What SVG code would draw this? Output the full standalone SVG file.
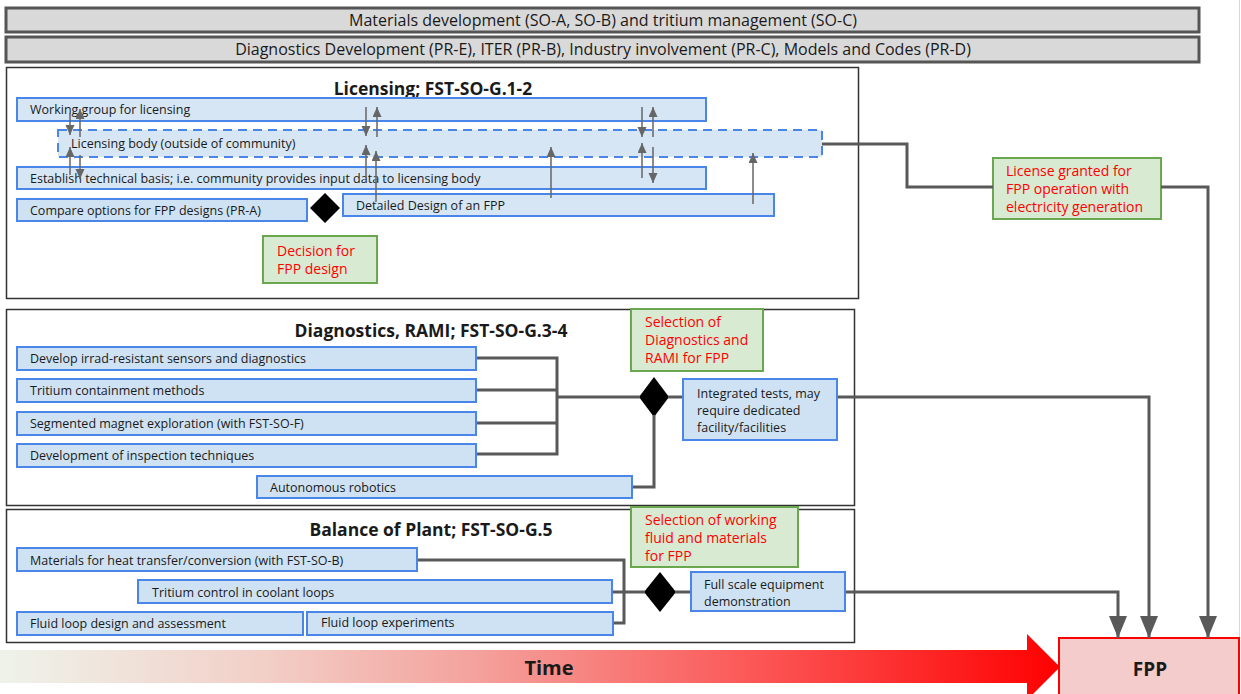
<svg xmlns="http://www.w3.org/2000/svg" width="1241" height="694" viewBox="0 0 1241 694">
<style>
text{font-family:"Open Sans","Liberation Sans",sans-serif;fill:#1a1a1a}
.hdr{fill:#d9d9d9;stroke:#555;stroke-width:3}
.hdrt{font-size:16px;text-anchor:middle}
.panel{fill:#fff;stroke:#333;stroke-width:1.5}
.ptitle{font-size:17.5px;font-weight:bold;text-anchor:middle}
.bar{fill:#cfe2f3;stroke:#4a86e8;stroke-width:2}
.dash{fill:#cfe2f3;stroke:#4a86e8;stroke-width:2;stroke-dasharray:9 6}
.bt{font-size:12.5px}
.dec{fill:#d9ead3;stroke:#6aa84f;stroke-width:2}
.rt{font-size:14px;fill:#ff0000}
.conn{fill:none;stroke:#595959;stroke-width:3}
.sa{fill:none;stroke:#666;stroke-width:1.5;marker-end:url(#sm)}
.ba{marker-end:url(#big)}
</style>
<defs>
<marker id="sm" markerUnits="userSpaceOnUse" markerWidth="10" markerHeight="12" refX="10" refY="4.5" orient="auto">
<path d="M0,0 L10,4.5 L0,9 Z" fill="#666"/>
</marker>
<marker id="big" markerUnits="userSpaceOnUse" markerWidth="24" markerHeight="20" refX="22" refY="9" orient="auto">
<path d="M0,0 L22,9 L0,18 Z" fill="#595959"/>
</marker>
<linearGradient id="tg" x1="0" y1="0" x2="1060" y2="0" gradientUnits="userSpaceOnUse">
<stop offset="0" stop-color="#eef3ea"/>
<stop offset="0.25" stop-color="#f2cfc7"/>
<stop offset="0.45" stop-color="#f4a19c"/>
<stop offset="0.75" stop-color="#fc4c4c"/>
<stop offset="1" stop-color="#ff0000"/>
</linearGradient>
</defs>
<rect width="1241" height="694" fill="#fff"/>
<line x1="1239.5" y1="0" x2="1239.5" y2="694" stroke="#d8d8d8" stroke-width="1"/>

<g id="hdr1"><rect class="hdr" x="6" y="8" width="1193" height="24"/><text class="hdrt" x="603" y="26">Materials development (SO-A, SO-B) and tritium management (SO-C)</text></g>
<g id="hdr2"><rect class="hdr" x="6" y="37" width="1193" height="25"/><text class="hdrt" x="603" y="55">Diagnostics Development (PR-E), ITER (PR-B), Industry involvement (PR-C), Models and Codes (PR-D)</text></g>

<g id="panel-licensing"><rect class="panel" x="6.5" y="67.5" width="852" height="231"/><text class="ptitle" x="433" y="95">Licensing; FST-SO-G.1-2</text></g>
<g id="panel-diag"><rect class="panel" x="6.5" y="309.5" width="848" height="196"/><text class="ptitle" x="431" y="337">Diagnostics, RAMI; FST-SO-G.3-4</text></g>
<g id="panel-bop"><rect class="panel" x="6.5" y="509.5" width="848" height="133"/><text class="ptitle" x="431" y="536">Balance of Plant; FST-SO-G.5</text></g>

<g id="time-arrow"><path d="M0,650 H1027 V634 L1060,667 L1027,700 V683 H0 Z" fill="url(#tg)"/><text x="549" y="675" style="font-size:20px;font-weight:bold;text-anchor:middle">Time</text></g>
<g id="fpp"><rect x="1059" y="638" width="180" height="60" fill="#f4cccc" stroke="#ff0000" stroke-width="2"/><text x="1150" y="676" style="font-size:19px;font-weight:bold;text-anchor:middle">FPP</text></g>

<g id="n-wg"><rect class="bar" x="17" y="98" width="689" height="23" fill-opacity="0.85"/><text class="bt" x="30" y="114">Working group for licensing</text></g>
<g id="n-lb"><rect class="dash" x="58" y="130" width="764" height="27" fill-opacity="0.85"/><text class="bt" x="71" y="148">Licensing body (outside of community)</text></g>
<g id="n-est"><rect class="bar" x="17" y="167" width="689" height="22" fill-opacity="0.85"/><text class="bt" x="30" y="183">Establish technical basis; i.e. community provides input data to licensing body</text></g>
<g id="n-cmp"><rect class="bar" x="17" y="199" width="290" height="22"/><text class="bt" x="30" y="215">Compare options for FPP designs (PR-A)</text></g>
<g id="d-lic"><path d="M325,193 L340,208 L325,223 L310,208 Z" fill="#000"/></g>
<g id="n-dd"><rect class="bar" x="343" y="194" width="431" height="22" fill-opacity="0.85"/><text class="bt" x="356" y="210">Detailed Design of an FPP</text></g>
<g id="m-dec"><rect class="dec" x="263" y="236" width="114" height="47"/><text class="rt" x="277" y="256">Decision for</text><text class="rt" x="277" y="274">FPP design</text></g>
<g id="m-lic"><rect class="dec" x="993" y="158" width="168" height="61"/><text class="rt" x="1006" y="176">License granted for</text><text class="rt" x="1006" y="194">FPP operation with</text><text class="rt" x="1006" y="212">electricity generation</text></g>

<g id="n-sens"><rect class="bar" x="17" y="347" width="459" height="23"/><text class="bt" x="30" y="363">Develop irrad-resistant sensors and diagnostics</text></g>
<g id="n-trit"><rect class="bar" x="17" y="379" width="459" height="23"/><text class="bt" x="30" y="395">Tritium containment methods</text></g>
<g id="n-seg"><rect class="bar" x="17" y="412" width="459" height="23"/><text class="bt" x="30" y="428">Segmented magnet exploration (with FST-SO-F)</text></g>
<g id="n-insp"><rect class="bar" x="17" y="444" width="459" height="23"/><text class="bt" x="30" y="460">Development of inspection techniques</text></g>
<g id="n-rob"><rect class="bar" x="257" y="476" width="375" height="22"/><text class="bt" x="270" y="492">Autonomous robotics</text></g>
<g id="d-diag"><path d="M654,377 L669,397 L654,417 L639,397 Z" fill="#000"/></g>
<g id="n-int"><rect class="bar" x="683" y="379" width="154" height="61"/><text class="bt" x="697" y="398">Integrated tests, may</text><text class="bt" x="697" y="415">require dedicated</text><text class="bt" x="697" y="432">facility/facilities</text></g>
<g id="m-diag"><rect class="dec" x="631" y="309" width="132" height="62"/><text class="rt" x="645" y="327">Selection of</text><text class="rt" x="645" y="345">Diagnostics and</text><text class="rt" x="645" y="363">RAMI for FPP</text></g>

<g id="n-mat"><rect class="bar" x="17" y="548" width="400" height="23"/><text class="bt" x="30" y="565">Materials for heat transfer/conversion (with FST-SO-B)</text></g>
<g id="n-tcl"><rect class="bar" x="138" y="580" width="474" height="23"/><text class="bt" x="152" y="597">Tritium control in coolant loops</text></g>
<g id="n-fld"><rect class="bar" x="17" y="612" width="286" height="23"/><text class="bt" x="30" y="628">Fluid loop design and assessment</text></g>
<g id="n-fle"><rect class="bar" x="307" y="612" width="306" height="23"/><text class="bt" x="321" y="627">Fluid loop experiments</text></g>
<g id="d-bop"><path d="M660,572 L676,592 L660,612 L644,592 Z" fill="#000"/></g>
<g id="n-fse"><rect class="bar" x="691" y="572" width="154" height="39"/><text class="bt" x="704" y="589">Full scale equipment</text><text class="bt" x="704" y="606">demonstration</text></g>
<g id="m-bop"><rect class="dec" x="631" y="507" width="167" height="60"/><text class="rt" x="645" y="525">Selection of working</text><text class="rt" x="645" y="543">fluid and materials</text><text class="rt" x="645" y="561">for FPP</text></g>

<g id="connectors">
<polyline class="conn" points="822,144 907,144 907,187 993,187"/>
<polyline class="conn ba" points="1161,187 1208,187 1208,638"/>
<polyline class="conn" points="477,358 557,358 557,454 477,454"/>
<line class="conn" x1="477" y1="390" x2="557" y2="390"/>
<line class="conn" x1="477" y1="423" x2="557" y2="423"/>
<line class="conn" x1="557" y1="397" x2="640" y2="397"/>
<polyline class="conn" points="633,487 654,487 654,415"/>
<line class="conn" x1="668" y1="397" x2="682" y2="397"/>
<polyline class="conn ba" points="838,397 1149,397 1149,638"/>
<polyline class="conn" points="418,560 624,560 624,623 614,623"/>
<line class="conn" x1="613" y1="592" x2="645" y2="592"/>
<line class="conn" x1="675" y1="592" x2="690" y2="592"/>
<polyline class="conn ba" points="846,592 1118,592 1118,638"/>
<line class="sa" x1="70" y1="113" x2="70" y2="135"/>
<line class="sa" x1="80" y1="137" x2="80" y2="109"/>
<line class="sa" x1="70" y1="175" x2="70" y2="147"/>
<line class="sa" x1="80" y1="155" x2="80" y2="179"/>
<line class="sa" x1="366" y1="107" x2="366" y2="136"/>
<line class="sa" x1="377" y1="137" x2="377" y2="107"/>
<line class="sa" x1="366" y1="178" x2="366" y2="145"/>
<line class="sa" x1="376" y1="202" x2="376" y2="151"/>
<line class="sa" x1="642" y1="107" x2="642" y2="137"/>
<line class="sa" x1="653" y1="137" x2="653" y2="107"/>
<line class="sa" x1="642" y1="178" x2="642" y2="143"/>
<line class="sa" x1="653" y1="147" x2="653" y2="183"/>
<line class="sa" x1="551" y1="198" x2="551" y2="147"/>
<line class="sa" x1="753" y1="204" x2="753" y2="153"/>
</g>
</svg>
